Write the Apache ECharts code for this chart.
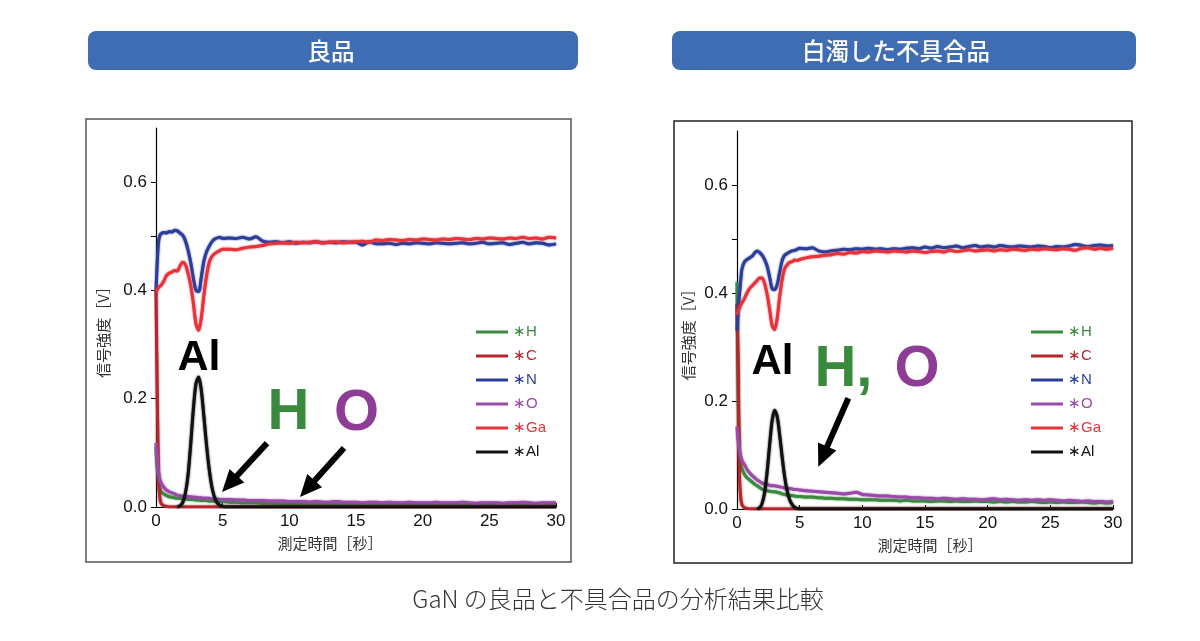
<!DOCTYPE html>
<html><head><meta charset="utf-8">
<script src="https://cdn.jsdelivr.net/npm/echarts@6/dist/echarts.min.js"></script>
<style>html,body{margin:0;padding:0;background:#fff}#c{width:1200px;height:641px}</style>
</head><body><div id="c"></div>
<script>
// time axis samples (seconds)
const T = [0,0.1,0.2,0.3,0.4,
 0.6,0.8,1.0,1.2,1.4,1.6,1.8,2.0,2.2,2.4,2.6,2.8,3.0,3.2,3.4,3.6,3.8,4.0,4.2,4.4,4.6,4.8,5.0,
 5.5,6,6.5,7,7.5,8,8.5,9,9.5,10, 10.5,11,11.5,12,12.5,13,13.5,14,14.5,15,
 15.5,16,16.5,17,17.5,18,18.5,19,19.5,20, 20.5,21,21.5,22,22.5,23,23.5,24,24.5,25,
 25.5,26,26.5,27,27.5,28,28.5,29,29.5,30];

const seriesNames = ['∗H','∗C','∗N','∗O','∗Ga','∗Al'];
const xTicks = [0,5,10,15,20,25,30];
const yTickLabels = [0,0.2,0.4,0.6];

// ---------- 良品 (good) ----------
const good_H = [0.110,0.070,0.045,0.034,0.028,
 0.024,0.021,0.019,0.018,0.017,0.016,0.016,0.015,0.015,0.014,0.014,0.014,0.013,0.013,0.012,0.012,0.012,0.011,0.011,0.011,0.010,0.010,0.010,
 0.009,0.009,0.008,0.008,0.008,0.007,0.007,0.007,0.006,0.006,
 0.006,0.006,0.005,0.006,0.005,0.005,0.005,0.005,0.004,0.005,
 0.004,0.005,0.004,0.004,0.005,0.004,0.004,0.004,0.003,0.004,
 0.004,0.003,0.004,0.003,0.004,0.003,0.003,0.004,0.003,0.003,
 0.003,0.004,0.003,0.003,0.003,0.003,0.004,0.003,0.003,0.003];
const good_C = [0.400,0.200,0.050,0.015,0.006,
 0.002,0.001,0,0,0,0,0,0,0,0,0,0,0,0,0,0,0,0,0,0,0,0,0,
 0,0,0,0,0,0,0,0,0,0, 0,0,0,0,0,0,0,0,0,0, 0,0,0,0,0,0,0,0,0,0, 0,0,0,0,0,0,0,0,0,0, 0,0,0,0,0,0,0,0,0,0];
const good_N = [0.400,0.455,0.492,0.502,0.505,
 0.507,0.506,0.509,0.508,0.511,0.510,0.506,0.502,0.492,0.475,0.452,0.423,0.400,0.398,0.425,0.455,0.472,0.482,0.490,0.495,0.497,0.498,0.496,
 0.497,0.496,0.498,0.495,0.499,0.491,0.489,0.490,0.488,0.490,
 0.487,0.489,0.488,0.490,0.488,0.489,0.488,0.490,0.489,0.489,
 0.484,0.490,0.486,0.486,0.487,0.485,0.487,0.486,0.488,0.487,
 0.486,0.488,0.487,0.486,0.487,0.488,0.486,0.487,0.489,0.486,
 0.487,0.488,0.485,0.487,0.489,0.486,0.488,0.487,0.484,0.486];
const good_O = [0.118,0.085,0.063,0.050,0.044,
 0.036,0.031,0.028,0.026,0.024,0.022,0.021,0.020,0.020,0.019,0.019,0.018,0.018,0.017,0.017,0.016,0.016,0.016,0.015,0.015,0.015,0.014,0.014,
 0.014,0.013,0.013,0.012,0.012,0.012,0.011,0.011,0.011,0.010,
 0.010,0.010,0.009,0.010,0.009,0.009,0.010,0.009,0.009,0.009,
 0.008,0.009,0.009,0.008,0.009,0.008,0.008,0.009,0.008,0.008,
 0.008,0.009,0.008,0.008,0.008,0.009,0.008,0.007,0.008,0.008,
 0.008,0.007,0.008,0.008,0.009,0.008,0.007,0.008,0.008,0.008];
const good_Ga = [0.398,0.402,0.405,0.408,0.410,
 0.418,0.428,0.432,0.434,0.437,0.436,0.445,0.452,0.448,0.432,0.410,0.377,0.338,0.326,0.350,0.392,0.428,0.452,0.463,0.468,0.471,0.474,0.476,
 0.476,0.475,0.478,0.480,0.481,0.483,0.486,0.487,0.488,0.487,
 0.489,0.488,0.489,0.490,0.488,0.489,0.490,0.488,0.489,0.490,
 0.491,0.489,0.493,0.492,0.494,0.493,0.492,0.494,0.493,0.495,
 0.494,0.493,0.495,0.494,0.496,0.495,0.494,0.496,0.495,0.497,
 0.496,0.495,0.497,0.496,0.498,0.496,0.497,0.495,0.498,0.497];
const good_Al = [null,null,null,null,null,
 null,null,null,null,null,0,0.002,0.008,0.025,0.058,0.115,0.180,0.228,0.240,0.215,0.165,0.112,0.068,0.036,0.017,0.007,0.003,0.001,
 0,0,0,0,0,0,0,0,0,0, 0,0,0,0,0,0,0,0,0,0, 0,0,0,0,0,0,0,0,0,0, 0,0,0,0,0,0,0,0,0,0, 0,0,0,0,0,0,0,0,0,0];

// ---------- 白濁した不具合品 (defective) ----------
const bad_H = [0.420,0.200,0.110,0.085,0.074,
 0.064,0.058,0.054,0.050,0.046,0.043,0.040,0.037,0.035,0.034,0.033,0.032,0.032,0.031,0.030,0.028,0.027,0.026,0.025,0.025,0.024,0.023,0.023,
 0.022,0.022,0.021,0.020,0.020,0.019,0.019,0.018,0.018,0.017,
 0.017,0.017,0.016,0.016,0.016,0.015,0.016,0.015,0.015,0.015,
 0.014,0.015,0.015,0.014,0.015,0.014,0.014,0.015,0.014,0.014,
 0.013,0.014,0.013,0.014,0.013,0.013,0.014,0.013,0.012,0.013,
 0.012,0.013,0.012,0.012,0.013,0.012,0.011,0.012,0.011,0.012];
const bad_C = [0.380,0.250,0.060,0.020,0.008,
 0.002,0.001,0,0,0,0,0,0,0,0,0,0,0,0,0,0,0,0,0,0,0,0,0,
 0,0,0,0,0,0,0,0,0,0, 0,0,0,0,0,0,0,0,0,0, 0,0,0,0,0,0,0,0,0,0, 0,0,0,0,0,0,0,0,0,0, 0,0,0,0,0,0,0,0,0,0];
const bad_N = [0.330,0.370,0.398,0.425,0.445,
 0.458,0.462,0.465,0.468,0.474,0.478,0.475,0.470,0.462,0.450,0.430,0.408,0.406,0.415,0.438,0.460,0.470,0.473,0.476,0.478,0.479,0.481,0.483,
 0.482,0.484,0.478,0.476,0.478,0.479,0.481,0.480,0.482,0.481,
 0.483,0.481,0.482,0.480,0.482,0.481,0.483,0.484,0.482,0.485,
 0.483,0.486,0.484,0.485,0.487,0.484,0.486,0.488,0.485,0.487,
 0.485,0.488,0.486,0.485,0.487,0.486,0.485,0.487,0.486,0.484,
 0.486,0.485,0.487,0.490,0.488,0.486,0.488,0.489,0.487,0.488];
const bad_O = [0.152,0.125,0.108,0.097,0.090,
 0.082,0.073,0.067,0.062,0.058,0.054,0.051,0.048,0.046,0.045,0.044,0.043,0.043,0.042,0.041,0.040,0.039,0.038,0.038,0.037,0.036,0.036,0.035,
 0.034,0.033,0.032,0.031,0.030,0.029,0.028,0.029,0.031,0.027,
 0.026,0.025,0.024,0.024,0.023,0.022,0.022,0.021,0.021,0.020,
 0.020,0.019,0.020,0.019,0.018,0.019,0.018,0.018,0.017,0.018,
 0.019,0.017,0.018,0.017,0.016,0.017,0.016,0.017,0.016,0.017,
 0.016,0.015,0.016,0.015,0.014,0.015,0.014,0.014,0.013,0.014];
const bad_Ga = [0.360,0.368,0.372,0.378,0.382,
 0.390,0.400,0.408,0.413,0.418,0.423,0.428,0.428,0.418,0.398,0.370,0.340,0.332,0.352,0.392,0.425,0.445,0.452,0.457,0.458,0.461,0.460,0.462,
 0.465,0.467,0.468,0.470,0.471,0.473,0.472,0.475,0.474,0.477,
 0.476,0.478,0.477,0.476,0.478,0.477,0.476,0.478,0.477,0.475,
 0.477,0.478,0.476,0.479,0.477,0.478,0.480,0.478,0.479,0.480,
 0.478,0.480,0.479,0.481,0.480,0.479,0.481,0.480,0.482,0.481,
 0.480,0.482,0.481,0.479,0.483,0.484,0.481,0.483,0.481,0.483];
const bad_Al = [null,null,null,null,null,
 null,null,null,null,null,0,0.002,0.010,0.030,0.068,0.118,0.163,0.183,0.172,0.138,0.097,0.060,0.034,0.017,0.008,0.003,0.001,0,
 0,0,0,0,0,0,0,0,0,0, 0,0,0,0,0,0,0,0,0,0, 0,0,0,0,0,0,0,0,0,0, 0,0,0,0,0,0,0,0,0,0, 0,0,0,0,0,0,0,0,0,0];

const panelTitles = ['良品','白濁した不具合品'];
const caption = 'GaN の良品と不具合品の分析結果比較';
const yAxisName = '信号強度［V］';
const xAxisName = '測定時間［秒］';

const colors = ['#3a8a3e','#b3272d','#2b3f9a','#9a4aa8','#e8323a','#111111'];
const goodSets = [good_H,good_C,good_N,good_O,good_Ga,good_Al];
const badSets = [bad_H,bad_C,bad_N,bad_O,bad_Ga,bad_Al];

const chart = echarts.init(document.getElementById('c'), null, {renderer:'canvas'});

function mkSeries(sets, gi, extraAl){
  return sets.map((arr, k) => {
    const s = {
      type:'line', name: seriesNames[k], xAxisIndex: gi, yAxisIndex: gi,
      data: T.map((t,i) => [t, arr[i]]),
      showSymbol:false, smooth:0.3, connectNulls:false,
      lineStyle:{color: colors[k], width: 3, shadowColor: colors[k], shadowBlur: 2},
      itemStyle:{color: colors[k]},
      silent:true, animation:false, z: 2 + k
    };
    if (k === 5) Object.assign(s, extraAl);
    return s;
  });
}

const arrowLine = {
  silent:true, symbol:['none','triangle'], symbolSize:[20,22], animation:false,
  lineStyle:{color:'#000', width:6, type:'solid'}, label:{show:false}, emphasis:{disabled:true}
};
const txt = (coord, text, color, size) => ({
  coord, value: text, symbol:'circle', symbolSize:1, itemStyle:{color:'rgba(0,0,0,0)'},
  label:{show:true, position:'inside', formatter:text, color, fontSize:size, fontWeight:'bold', fontFamily:'Liberation Sans'}
});

const goodAlExtra = {
  markLine: Object.assign({}, arrowLine, {data:[
    [{coord:[8.33,0.118]},{coord:[5.51,0.0426]}],
    [{coord:[14.1,0.109]},{coord:[11.35,0.0336]}]
  ]}),
  markPoint: {silent:true, animation:false, data:[
    txt([3.23,0.275],'Al','#000',43),
    txt([9.94,0.1735],'H','#3a8a3e',58),
    txt([15.04,0.1717],'O','#8e3d97',58)
  ]}
};
const badAlExtra = {
  markLine: Object.assign({}, arrowLine, {data:[
    [{coord:[8.88,0.205]},{coord:[6.84,0.097]}]
  ]}),
  markPoint: {silent:true, animation:false, data:[
    txt([2.83,0.272],'Al','#000',42),
    {coord:[11.17,0.258], value:'HO', symbol:'circle', symbolSize:1, itemStyle:{color:'rgba(0,0,0,0)'},
     label:{show:true, position:'inside', formatter:'{h|H,}{o|O}',
       rich:{h:{color:'#3a8a3e',fontSize:58,fontWeight:'bold',fontFamily:'Liberation Sans'},
             o:{color:'#8e3d97',fontSize:58,fontWeight:'bold',fontFamily:'Liberation Sans',padding:[0,0,0,22]}}}}
  ]}
};

function xAx(gi){
  return {type:'value', gridIndex:gi, min:0, max:30, interval:5,
    name:xAxisName, nameLocation:'middle', nameGap:29,
    nameTextStyle:{fontSize:15, color:'#333', fontFamily:'Noto Sans CJK JP', padding: gi ? [0,0,0,10] : [0,52,0,0]},
    axisLine:{onZero:false, lineStyle:{color:'#000', width:1.2}},
    axisTick:{inside:true, length:4, lineStyle:{color:'#000'}, customValues: xTicks},
    axisLabel:{fontSize:17, color:'#111', margin:6, fontFamily:'Liberation Sans', customValues: xTicks},
    splitLine:{show:false}};
}
function yAx(gi){
  return {type:'value', gridIndex:gi, min:0, max:0.7, interval:0.1,
    name:yAxisName, nameLocation:'middle', nameGap: gi ? 41 : 45, nameRotate:90,
    nameTextStyle:{fontSize:15, color:'#333', fontFamily:'Noto Sans CJK JP', padding:[0,22,0,0]},
    axisLine:{show:true, lineStyle:{color:'#000', width:1.2}},
    axisTick:{show:true, length:5, lineStyle:{color:'#000'}, customValues:[0,0.2,0.4,0.5,0.6]},
    axisLabel:{customValues: yTickLabels, formatter: v => v.toFixed(1), fontSize:17, color:'#111', margin:9, fontFamily:'Liberation Sans'},
    splitLine:{show:false}};
}
function legend(left){
  return {orient:'vertical', left, top:324, itemWidth:32, itemHeight:3, itemGap:8, icon:'rect', padding:0,
    selectedMode:false,
    textStyle:{fontSize:15, lineHeight:16, fontFamily:'Liberation Sans'},
    data: seriesNames.map((n,k) => ({name:n, textStyle:{color: colors[k]}}))};
}

const option = {
  backgroundColor:'#fff',
  animation:false,
  grid:[
    {left:156, right:644, top:128, bottom:134, containLabel:false, outerBoundsMode:'none'},
    {left:737, right:87, top:131, bottom:132, containLabel:false, outerBoundsMode:'none'}
  ],
  xAxis:[xAx(0), xAx(1)],
  yAxis:[yAx(0), yAx(1)],
  legend:[legend(476), legend(1031)],
  graphic:[
    {type:'rect', z:-1, shape:{x:86,y:119,width:485,height:443}, style:{fill:'none', stroke:'#555', lineWidth:1.5}},
    {type:'rect', z:-1, shape:{x:674,y:121,width:458,height:442}, style:{fill:'none', stroke:'#222', lineWidth:1.5}},
    {type:'rect', shape:{x:88,y:31,width:490,height:39,r:8}, style:{fill:'#3f6db4'}},
    {type:'rect', shape:{x:672,y:31,width:464,height:39,r:8}, style:{fill:'#3f6db4'}},
    {type:'text', x:331, y:51, style:{text:panelTitles[0], fill:'#fff', font:'500 23.5px "Noto Sans CJK JP"', textAlign:'center', textVerticalAlign:'middle'}},
    {type:'text', x:896, y:51, style:{text:panelTitles[1], fill:'#fff', font:'500 23.5px "Noto Sans CJK JP"', textAlign:'center', textVerticalAlign:'middle'}},
    {type:'text', x:618, y:599, style:{text:caption, fill:'#333', font:'300 24px "Noto Sans CJK JP"', textAlign:'center', textVerticalAlign:'middle'}}
  ],
  series:[...mkSeries(goodSets,0,goodAlExtra), ...mkSeries(badSets,1,badAlExtra)]
};
chart.setOption(option);
</script></body></html>
